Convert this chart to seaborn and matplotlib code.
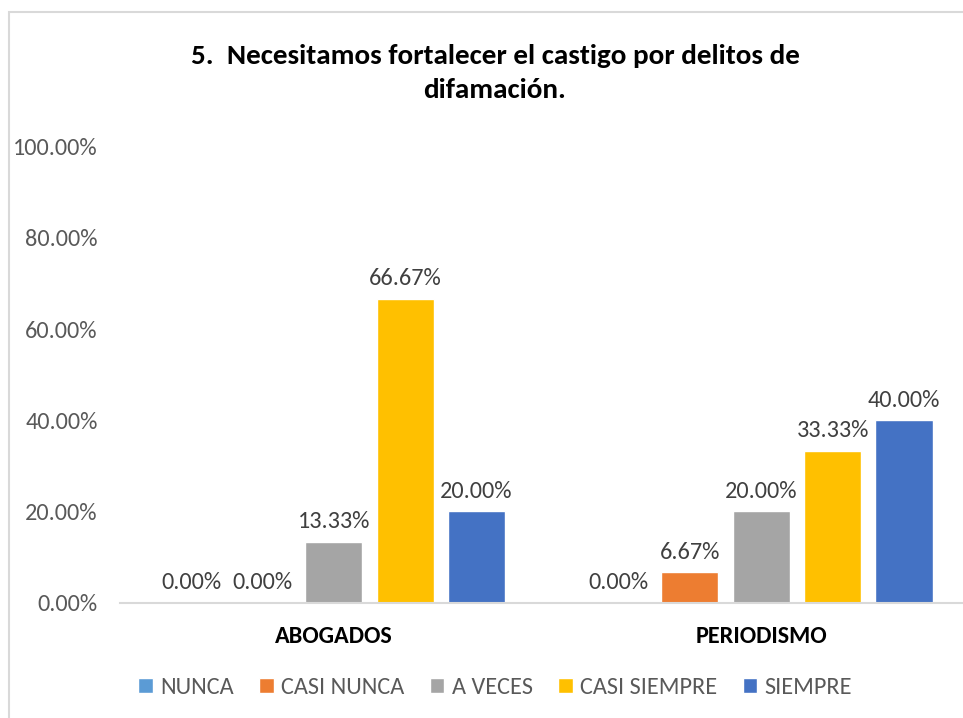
import pandas as pd
import matplotlib
matplotlib.use("Agg")
import matplotlib.pyplot as plt
import seaborn as sns
from matplotlib import font_manager
from matplotlib.patches import Rectangle

grupos = ["ABOGADOS", "PERIODISMO"]
respuestas = ["NUNCA", "CASI NUNCA", "A VECES", "CASI SIEMPRE", "SIEMPRE"]
abogados = [0.0, 0.0, 0.1333, 0.6667, 0.20]
periodismo = [0.0, 0.0667, 0.20, 0.3333, 0.40]
colores = ["#5B9BD5", "#ED7D31", "#A5A5A5", "#FFC000", "#4472C4"]
yticks = [0.0, 0.2, 0.4, 0.6, 0.8, 1.0]
titulo = "5.  Necesitamos fortalecer el castigo por delitos de\ndifamación."

rows = []
for g, vals in zip(grupos, [abogados, periodismo]):
    for r, v in zip(respuestas, vals):
        rows.append({"grupo": g, "respuesta": r, "valor": v})
df = pd.DataFrame(rows)

sns.set_style("white")
installed = {f.name for f in font_manager.fontManager.ttflist}
fam = [f for f in ["Carlito", "Lato", "DejaVu Sans"] if f in installed]
plt.rcParams["font.family"] = fam

fig = plt.figure(figsize=(9.63, 7.18), dpi=100)
ax = fig.add_axes([120 / 963, 0.1606, 855 / 963, 0.6351])

sns.barplot(data=df, x="grupo", y="valor", hue="respuesta", order=grupos,
            hue_order=respuestas, palette=colores, width=0.835, gap=0.2,
            saturation=1, ax=ax, legend=True)

for cont in ax.containers:
    labels = [f"{b.get_height():.2%}" for b in cont]
    ax.bar_label(cont, labels=labels, padding=7, fontsize=17.5, color="#404040")

ax.set_xlim(-0.5, 1.5)
ax.set_ylim(0, 1.0)
ax.set_yticks(yticks)
ax.set_yticklabels([f"{t:.2%}" for t in yticks])
ax.tick_params(axis="y", length=0, pad=16, labelsize=17.5, labelcolor="#595959")
ax.tick_params(axis="x", length=0, pad=17)
for lab in ax.get_xticklabels():
    lab.set_fontweight("bold")
    lab.set_fontsize(17.5)
    lab.set_color("black")
ax.set_xlabel("")
ax.set_ylabel("")
for s in ["top", "right", "left"]:
    ax.spines[s].set_visible(False)
ax.spines["bottom"].set_color("#D9D9D9")
ax.spines["bottom"].set_linewidth(1.5)

handles, labs = ax.get_legend_handles_labels()
ax.legend_.remove()
fig.legend(handles, labs, loc="center", bbox_to_anchor=(0.514, 0.042), ncol=5,
           frameon=False, fontsize=17.5, labelcolor="#595959", handlelength=0.6,
           handleheight=0.6, handletextpad=0.3, columnspacing=1.05)

fig.text(0.514, (718 - 73) / 718, titulo, ha="center", va="center",
         fontsize=21, fontweight="bold", color="black", linespacing=1.45)

fig.patches.append(Rectangle((8.5 / 963, -0.1), 1.2, 1.1 - 12.5 / 718,
                             transform=fig.transFigure, fill=False,
                             edgecolor="#D9D9D9", linewidth=1.5))

fig.savefig("out.png", dpi=100)
plt.close(fig)
